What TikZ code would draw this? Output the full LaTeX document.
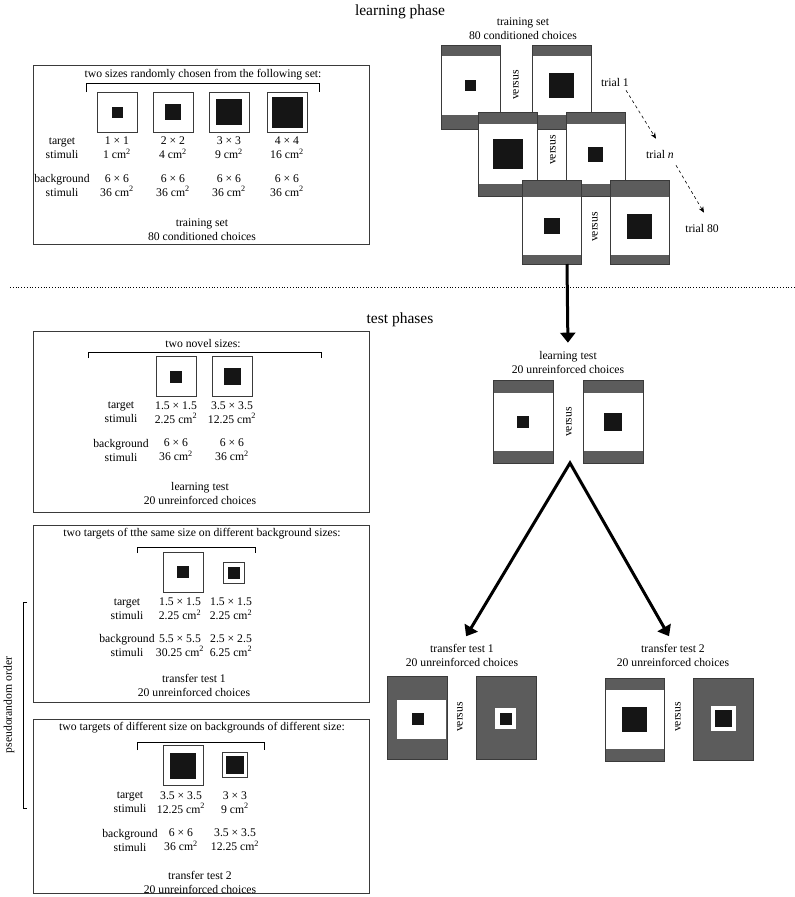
\documentclass[tikz,border=0pt]{standalone}
\usepackage{fontspec}
\setmainfont{Liberation Serif}
\usetikzlibrary{arrows.meta}
\definecolor{bandgray}{HTML}{5C5C5C}
\definecolor{tgtblack}{HTML}{151515}
\definecolor{frame}{HTML}{3A3A3A}

\begin{document}
\begin{tikzpicture}[x=1pt,y=-1pt,font=\fontsize{11.7}{14}\selectfont,
    txt/.style={align=center,inner sep=1pt},
    title/.style={font=\fontsize{15.5}{17}\selectfont},
    box/.style={draw=frame,line width=.8pt},
    cardline/.style={draw=frame,line width=.6pt},
    bgsq/.style={draw=frame,fill=white,line width=.7pt,inner sep=0pt,minimum size=#1},
    tgsq/.style={fill=tgtblack,inner sep=0pt,minimum size=#1},
    vs/.style={rotate=90,inner sep=1pt},
    bigarrow/.style={line width=3pt,-{Triangle[width=15pt,length=10pt]}},
    bothway/.style={line width=3pt,line join=miter,{Triangle[width=15pt,length=10pt]}-{Triangle[width=15pt,length=10pt]}},
    dasharrow/.style={dashed,line width=.6pt,-{Stealth[length=6pt,width=5pt]}}]

    \useasboundingbox (0,0) rectangle (795,897);

    % learning phase
    \node[title] (learnphase) at (400,12) {learning phase};

    \draw[box] (33,65) rectangle (369,244);
    \node[txt] (Atitle) at (203,75) {two sizes randomly chosen from the following set:};
    \draw (86,92) -- (86,83) -- (319,83) -- (319,92);
    \foreach \i/\cx/\s/\w/\a in {1/117/11/1/1, 2/173/16/2/4, 3/229/26/3/9, 4/287/31/4/16} {
        \node[bgsq=40pt] (A\i) at (\cx,112) {};
        \node[tgsq=\s pt] (A\i c) at (A\i) {};
        \node[txt] (At\i) at (\cx,148) {\w\ × \w\\\a\ cm\textsuperscript{2}};
        \node[txt] (Ab\i) at (\cx,185.5) {6 × 6\\36 cm\textsuperscript{2}};
    }
    \node[txt] (Alab1) at (62,148) {target\\stimuli};
    \node[txt] (Alab2) at (62,185.5) {background\\stimuli};
    \node[txt] (Afoot) at (202,230) {training set\\80 conditioned choices};

    \node[txt] (trainset) at (523,29) {training set\\80 conditioned choices};
    \foreach \x/\y/\t/\b/\s in {441/45/11/14/11, 532/45/11/14/25, 478/112/12/12/30, 566/112/12/12/15, 522/180/17/9/16, 610/180/17/9/25} {
        \fill[bandgray] (\x,\y) rectangle ++(59,84);
        \fill[white] ({\x},{\y+\t}) rectangle ({\x+59},{\y+84-\b});
        \draw[cardline] (\x,\y) rectangle ++(59,84);
        \fill[tgtblack] ({\x+29.5-\s/2},{\y+\t+(84-\t-\b)/2-\s/2}) rectangle ++(\s,\s);
    }
    \node[vs] (vs1) at (516,85) {versus};
    \node[vs] (vs2) at (553,150) {versus};
    \node[vs] (vs3) at (595,227) {versus};

    \node[txt] (t1) at (615,82) {trial 1};
    \node[txt] (tn) at (660,154) {trial \textit{n}};
    \node[txt] (t80) at (702,228) {trial 80};
    \draw[dasharrow] ([shift={(11,3)}]t1.south) -- ([shift={(-4,-10)}]tn.north);
    \draw[dasharrow] ([shift={(16,6)}]tn.south) -- ([shift={(2,-10)}]t80.north);

    \draw[dotted,line width=.8pt] (10,287) -- (795,287);

    % test phases
    \node[title] (testphase) at (400,320) {test phases};

    \draw[box] (33,331) rectangle (369,512);
    \node[txt] (Btitle) at (203,344) {two novel sizes:};
    \draw (88,358) -- (88,352) -- (321,352) -- (321,358);
    \node[bgsq=40pt] (B1) at (176,376.5) {};
    \node[tgsq=12pt] (B1c) at (B1) {};
    \node[bgsq=40pt] (B2) at (232,376.5) {};
    \node[tgsq=17pt] (B2c) at (B2) {};
    \node[txt] (Blab1) at (121,412.5) {target\\stimuli};
    \node[txt] (Blab2) at (121,450) {background\\stimuli};
    \node[txt] (Bt1) at (176,412.5) {1.5 × 1.5\\2.25 cm\textsuperscript{2}};
    \node[txt] (Bt2) at (232,412.5) {3.5 × 3.5\\12.25 cm\textsuperscript{2}};
    \node[txt] (Bb1) at (176,450) {6 × 6\\36 cm\textsuperscript{2}};
    \node[txt] (Bb2) at (232,450) {6 × 6\\36 cm\textsuperscript{2}};
    \node[txt] (Bfoot) at (200,493.5) {learning test\\20 unreinforced choices};

    \draw[box] (33,525) rectangle (369,702);
    \node[txt] (Ctitle) at (202,534) {two targets of tthe same size on different background sizes:};
    \draw (137,553) -- (137,547) -- (255,547) -- (255,553);
    \node[bgsq=40pt] (C1) at (183,572) {};
    \node[tgsq=12pt] (C1c) at (C1) {};
    \node[bgsq=21pt] (C2) at (233.5,572.5) {};
    \node[tgsq=12pt] (C2c) at (C2) {};
    \node[txt] (Clab1) at (127,609) {target\\stimuli};
    \node[txt] (Clab2) at (127,645.5) {background\\stimuli};
    \node[txt] (Ct1) at (180,609) {1.5 × 1.5\\2.25 cm\textsuperscript{2}};
    \node[txt] (Ct2) at (231,609) {1.5 × 1.5\\2.25 cm\textsuperscript{2}};
    \node[txt] (Cb1) at (180,645.5) {5.5 × 5.5\\30.25 cm\textsuperscript{2}};
    \node[txt] (Cb2) at (231,645.5) {2.5 × 2.5\\6.25 cm\textsuperscript{2}};
    \node[txt] (Cfoot) at (194,685.5) {transfer test 1\\20 unreinforced choices};

    \draw[box] (33,719) rectangle (369,893);
    \node[txt] (Dtitle) at (202,728) {two targets of different size on backgrounds of different size:};
    \draw (137,750) -- (137,742) -- (264,742) -- (264,750);
    \node[bgsq=40pt] (D1) at (183,765.5) {};
    \node[tgsq=26pt] (D1c) at (D1) {};
    \node[bgsq=25pt] (D2) at (234.5,764.5) {};
    \node[tgsq=18pt] (D2c) at (D2) {};
    \node[txt] (Dlab1) at (130,802.5) {target\\stimuli};
    \node[txt] (Dlab2) at (130,840) {background\\stimuli};
    \node[txt] (Dt1) at (181,802.5) {3.5 × 3.5\\12.25 cm\textsuperscript{2}};
    \node[txt] (Dt2) at (235,802.5) {3 × 3\\9 cm\textsuperscript{2}};
    \node[txt] (Db1) at (181,840) {6 × 6\\36 cm\textsuperscript{2}};
    \node[txt] (Db2) at (235,840) {3.5 × 3.5\\12.25 cm\textsuperscript{2}};
    \node[txt] (Dfoot) at (200,882) {transfer test 2\\20 unreinforced choices};

    \draw (27,602) -- (23,602) -- (23,808) -- (27,808);
    \node[rotate=90,inner sep=1pt] (pseudo) at (9,705) {pseudorandom order};

    % right-hand test cards
    \node[txt] (lt) at (568,362) {learning test\\20 unreinforced choices};
    \coordinate (trainend) at (567,264);
    \draw[bigarrow,shorten >=7pt] (trainend) -- (lt.north);

    \foreach \x/\s in {493/12, 583/18} {
        \fill[bandgray] (\x,380) rectangle ++(60,83);
        \fill[white] (\x,393) rectangle ({\x+60},451);
        \draw[cardline] (\x,380) rectangle ++(60,83);
        \fill[tgtblack] ({\x+30-\s/2},{422-\s/2}) rectangle ++(\s,\s);
    }
    \node[vs] (vs4) at (569,422) {versus};

    \coordinate (vapex) at (570,463);
    \node[txt] (tt1) at (462,655.5) {transfer test 1\\20 unreinforced choices};
    \node[txt] (tt2) at (673,655.5) {transfer test 2\\20 unreinforced choices};
    \draw[bothway,shorten <=8pt,shorten >=8pt] (tt1.north) -- (vapex) -- (tt2.north);

    % transfer test 1 cards
    \fill[bandgray] (387,676) rectangle ++(60,83);
    \fill[white] (397,700) rectangle (446,739);
    \draw[cardline] (387,676) rectangle ++(60,83);
    \fill[tgtblack] (412,713) rectangle ++(12,12);
    \fill[bandgray] (476,676) rectangle ++(60,83);
    \fill[white] (495,708) rectangle ++(21,21);
    \draw[cardline] (476,676) rectangle ++(60,83);
    \fill[tgtblack] (499.5,712.5) rectangle ++(12,12);
    \node[vs] (vs5) at (460,717) {versus};

    % transfer test 2 cards
    \fill[bandgray] (605,678) rectangle ++(59,83);
    \fill[white] (605,690) rectangle (664,749);
    \draw[cardline] (605,678) rectangle ++(59,83);
    \fill[tgtblack] (622,707) rectangle ++(25,25);
    \fill[bandgray] (693,678) rectangle ++(60,82);
    \fill[white] (711,706) rectangle ++(25,25);
    \draw[cardline] (693,678) rectangle ++(60,82);
    \fill[tgtblack] (715,710) rectangle ++(17,17);
    \node[vs] (vs6) at (678,717) {versus};
\end{tikzpicture}
\end{document}
